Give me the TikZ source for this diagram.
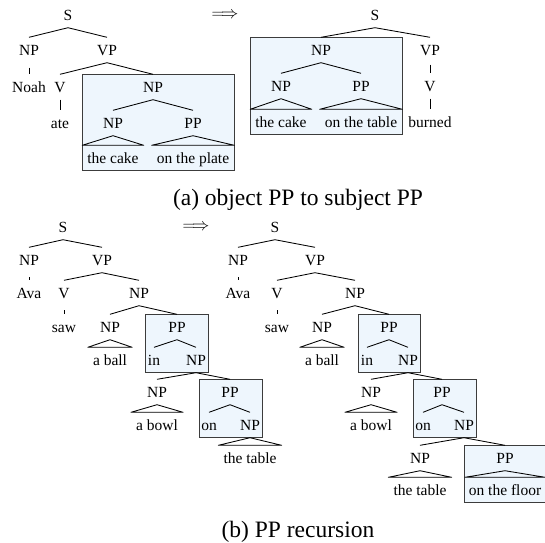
\documentclass[tikz,border=0pt]{standalone}
\usepackage{fontspec}
\setmainfont{Liberation Serif}
\usetikzlibrary{calc,fit,backgrounds}
\definecolor{boxfill}{RGB}{238,246,253}
\definecolor{boxline}{RGB}{60,60,60}
\begin{document}
\begin{tikzpicture}[x=1pt,y=-1pt,
  lab/.style={font=\fontsize{15.5}{18}\selectfont, inner xsep=2, inner ysep=0, text height=10, text depth=0, minimum height=25},
  leaf/.style={lab, inner xsep=5},
  edge/.style={line width=0.85pt, line join=round},
  hlbox/.style={draw=boxline, fill=boxfill, line width=0.9pt, inner sep=0},
  captext/.style={font=\fontsize{23.5}{28}\selectfont, inner sep=0},
  arr/.style={font=\fontsize{16.5}{18}\selectfont, inner sep=0},
]
\useasboundingbox (0,0) rectangle (545,542);

% ---------------- (a) left tree ----------------
\node[lab] (aS) at (68,15) {S};
\node[lab] (aNP) at (29,50) {NP};
\node[lab] (aVP) at (107,50) {VP};
\node[lab] (aNoah) at (29,87) {Noah};
\node[lab] (aV) at (60,87) {V};
\node[lab] (aNPo) at (153,87) {NP};
\node[lab] (aate) at (60,123) {ate};
\node[lab] (aNPc) at (113,123) {NP};
\node[lab] (aPP) at (193,123) {PP};
\node[leaf] (acake) at (113,158) {the cake};
\node[leaf] (aplate) at (193,158) {on the plate};

\draw[edge] (aNP.north) -- (aS.south) -- (aVP.north);
\draw[edge] (aV.north) -- (aVP.south) -- (aNPo.north);
\draw[edge] (aNPc.north) -- (aNPo.south) -- (aPP.north);
\draw[edge] ($(aNP.south)+(0,5)$) -- (aNoah.north);
\draw[edge] (aV.south) -- (aate.north);
\draw[edge] (aNPc.south) -- (acake.north east) -- (acake.north west) -- cycle;
\draw[edge] (aPP.south) -- (aplate.north east) -- (aplate.north west) -- cycle;

\node[arr] (arrA) at (225,15) {$\Longrightarrow$};

% ---------------- (a) right tree ----------------
\node[lab] (bS) at (375,15) {S};
\node[lab] (bNP) at (321,50) {NP};
\node[lab] (bVP) at (430,50) {VP};
\node[lab] (bNPc) at (281,86) {NP};
\node[lab] (bPP) at (361,86) {PP};
\node[lab] (bV) at (430,86) {V};
\node[leaf] (bcake) at (281,122) {the cake};
\node[leaf] (btable) at (361,122) {on the table};
\node[lab] (bburned) at (430,122) {burned};

\draw[edge] (bNP.north) -- (bS.south) -- (bVP.north);
\draw[edge] (bNPc.north) -- (bNP.south) -- (bPP.north);
\draw[edge] ($(bVP.south)+(0,2)$) -- (bV.north);
\draw[edge] (bV.south) -- (bburned.north);
\draw[edge] (bNPc.south) -- (bcake.north east) -- (bcake.north west) -- cycle;
\draw[edge] (bPP.south) -- (btable.north east) -- (btable.north west) -- cycle;

\node[captext] (capA) at (298,200) {(a) object PP to subject PP};

% ---------------- (b) left tree ----------------
\node[lab] (cS) at (63,227) {S};
\node[lab] (cNP) at (29,260) {NP};
\node[lab] (cVP) at (102,260) {VP};
\node[lab] (cAva) at (29,293) {Ava};
\node[lab] (cV) at (64,293) {V};
\node[lab] (cNPo) at (139,293) {NP};
\node[lab] (csaw) at (64,327) {saw};
\node[lab] (cNPb) at (110,327) {NP};
\node[lab] (cPP) at (177,327) {PP};
\node[leaf] (cball) at (110,360) {a ball};
\node[lab] (cin) at (154,360) {in};
\node[lab] (cNPi) at (196,360) {NP};
\node[lab] (cNPw) at (157,392) {NP};
\node[lab] (cPPo) at (230,392) {PP};
\node[leaf] (cbowl) at (157,425) {a bowl};
\node[lab] (con) at (209,425) {on};
\node[lab] (cNPt) at (250,425) {NP};
\node[leaf] (ctable) at (250,458) {the table};

\draw[edge] (cNP.north) -- (cS.south) -- (cVP.north);
\draw[edge] ($(cNP.south)+(0,4.5)$) -- (cAva.north);
\draw[edge] (cV.north) -- (cVP.south) -- (cNPo.north);
\draw[edge] ($(cV.south)+(0,4.5)$) -- (csaw.north);
\draw[edge] (cNPb.north) -- (cNPo.south) -- (cPP.north);
\draw[edge] (cNPb.south) -- (cball.north east) -- (cball.north west) -- cycle;
\draw[edge] (cin.north) -- (cPP.south) -- (cNPi.north);
\draw[edge] (cNPw.north) -- (cNPi.south) -- (cPPo.north);
\draw[edge] (cNPw.south) -- (cbowl.north east) -- (cbowl.north west) -- cycle;
\draw[edge] (con.north) -- (cPPo.south) -- (cNPt.north);
\draw[edge] (cNPt.south) -- (ctable.north east) -- (ctable.north west) -- cycle;

\node[arr] (arrB) at (196,227) {$\Longrightarrow$};

% ---------------- (b) right tree ----------------
\node[lab] (dS) at (275,227) {S};
\node[lab] (dNP) at (238,260) {NP};
\node[lab] (dVP) at (315,260) {VP};
\node[lab] (dAva) at (238,293) {Ava};
\node[lab] (dV) at (277,293) {V};
\node[lab] (dNPo) at (355,293) {NP};
\node[lab] (dsaw) at (277,327) {saw};
\node[lab] (dNPb) at (322,327) {NP};
\node[lab] (dPP) at (389,327) {PP};
\node[leaf] (dball) at (322,360) {a ball};
\node[lab] (din) at (367,360) {in};
\node[lab] (dNPi) at (408,360) {NP};
\node[lab] (dNPw) at (371,392) {NP};
\node[lab] (dPPo) at (442,392) {PP};
\node[leaf] (dbowl) at (371,425) {a bowl};
\node[lab] (don) at (423,425) {on};
\node[lab] (dNPt) at (464,425) {NP};
\node[lab] (dNPx) at (420,458) {NP};
\node[lab] (dPPf) at (505,458) {PP};
\node[leaf] (dtable) at (420,490) {the table};
\node[leaf, inner xsep=3.8] (dfloor) at (505,490) {on the floor};

\draw[edge] (dNP.north) -- (dS.south) -- (dVP.north);
\draw[edge] ($(dNP.south)+(0,4.5)$) -- (dAva.north);
\draw[edge] (dV.north) -- (dVP.south) -- (dNPo.north);
\draw[edge] ($(dV.south)+(0,4.5)$) -- (dsaw.north);
\draw[edge] (dNPb.north) -- (dNPo.south) -- (dPP.north);
\draw[edge] (dNPb.south) -- (dball.north east) -- (dball.north west) -- cycle;
\draw[edge] (din.north) -- (dPP.south) -- (dNPi.north);
\draw[edge] (dNPw.north) -- (dNPi.south) -- (dPPo.north);
\draw[edge] (dNPw.south) -- (dbowl.north east) -- (dbowl.north west) -- cycle;
\draw[edge] (don.north) -- (dPPo.south) -- (dNPt.north);
\draw[edge] (dNPx.north) -- (dNPt.south) -- (dPPf.north);
\draw[edge] (dNPx.south) -- (dtable.north east) -- (dtable.north west) -- cycle;
\draw[edge] (dPPf.south) -- (dfloor.north east) -- (dfloor.north west) -- cycle;

\node[captext] (capB) at (298,531.5) {(b) PP recursion};

% ---------------- highlight boxes ----------------
\begin{scope}[on background layer]
  \node[hlbox, fit=(aNPo.north)(acake)(aplate)] (boxA1) {};
  \node[hlbox, fit=(bNP.north)(bcake)(btable)] (boxA2) {};
  \node[hlbox, fit=(cPP.north)(cin)(cNPi)] (boxC1) {};
  \node[hlbox, fit=(cPPo.north)(con)(cNPt)] (boxC2) {};
  \node[hlbox, fit=(dPP.north)(din)(dNPi)] (boxD1) {};
  \node[hlbox, fit=(dPPo.north)(don)(dNPt)] (boxD2) {};
  \node[hlbox, fit=(dPPf.north)(dfloor)] (boxD3) {};
\end{scope}
\end{tikzpicture}
\end{document}
